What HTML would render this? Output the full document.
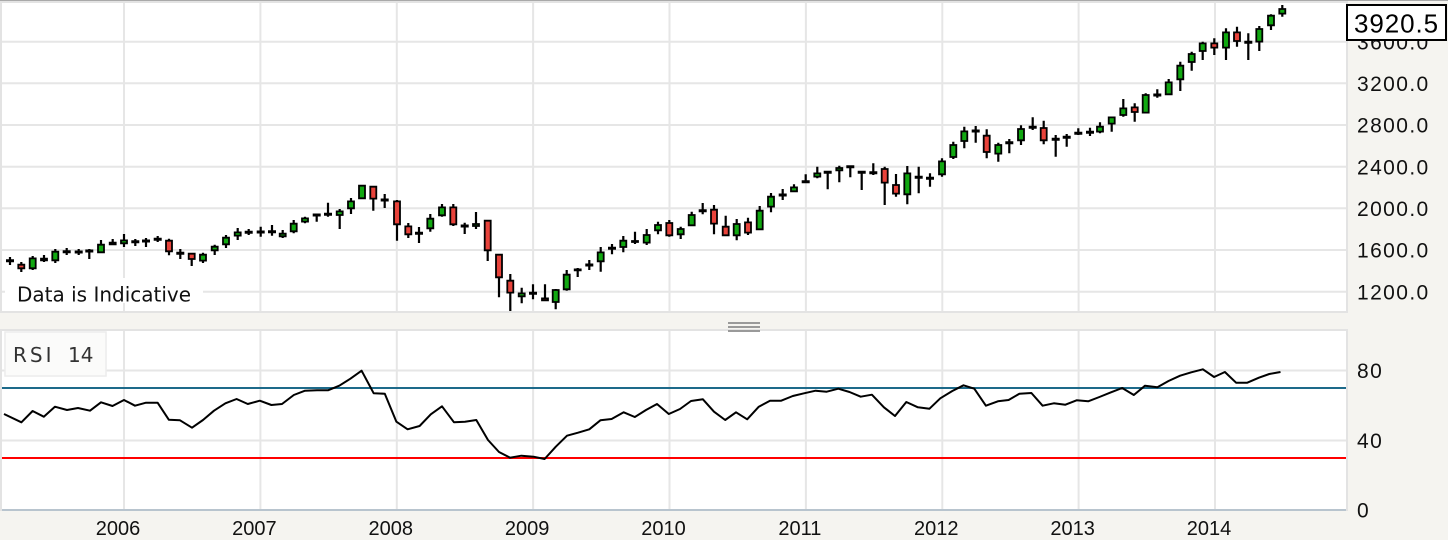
<!DOCTYPE html>
<html>
<head>
<meta charset="utf-8">
<style>
html,body{margin:0;padding:0;background:#f5f4f0;}
svg{display:block;}
.pl{font-family:"DejaVu Sans","Liberation Sans",sans-serif;font-size:20px;fill:#111;}
.ax{font-family:"Liberation Sans",sans-serif;font-size:21px;fill:#111;letter-spacing:1.4px;}
.yr{font-family:"Liberation Sans",sans-serif;font-size:20px;fill:#111;}
</style>
</head>
<body>
<svg width="1448" height="540" viewBox="0 0 1448 540" xmlns="http://www.w3.org/2000/svg">
<rect x="0" y="0" width="1448" height="540" fill="#f5f4f0"/>
<rect x="0" y="0" width="1448" height="1" fill="#a9a9a9"/>

<!-- Top panel -->
<rect x="1" y="2" width="1346" height="310" fill="#ffffff" stroke="#e3e3e3" stroke-width="2"/>
<g stroke="#e6e6e6" stroke-width="2" fill="none">
<path d="M2 41.7H1346M2 83.3H1346M2 125H1346M2 166.7H1346M2 208.3H1346M2 250H1346M2 291.7H1346"/>
<path d="M124 3V311M260.4 3V311M396.8 3V311M533.1 3V311M669.5 3V311M805.9 3V311M942.3 3V311M1078.6 3V311M1215 3V311"/>
</g>

<!-- Wicks -->
<path stroke="#000" stroke-width="2.2" fill="none" d="M10 257V265M21.3 262V272M32.7 256V270M44 255V262M55.3 249V263M66.7 248V255M78.7 249V255M89.3 249V259M101 240V253M112.7 239V245M124 234V247M135.3 239V246M146 238V247M157.7 236V242M169 238.7V255.3M180.3 249V259M191.7 253V266M203 252.7V263M214.7 244.7V255M226 235V248M237.7 228V240M248.7 229V235M260.7 226.7V236.7M272 225V235.7M282.7 230V238M293.7 220V233.3M305 216.7V223.3M316.7 214V221.7M328 202.7V216.7M339.7 209V229M351 198V214M362 185V199M373.3 186V210.7M384.7 194V208M397 200V240.7M408.3 223V238M419 227V243M430.3 214V231.7M442 204V216.7M453.3 204V226M464.7 222.7V234M476 212V229M487.7 220V261M499 254V297.3M510.3 274V311M521.7 287.7V303.3M533 284.3V299.3M545 284.3V301M555.7 289V309.3M566.7 270V290.7M577.7 268V277M589.3 260V270M600.7 247V271.7M612 244V254.3M623.3 236V252.3M635 231.7V244M646.7 229V245M658 221.7V234.3M669.3 220V236.7M680.7 226.7V239M691.7 211.7V226M702.7 203V214.3M714 205V234.3M725.7 215.7V236M736.7 219V240.3M748 217.7V235M759.7 206V230M771 193V212.3M782.7 189V200M794 184.3V192M805.7 174.3V182.3M817.3 166.7V178.3M827.7 171V189.3M839.3 165.7V182.3M850.3 165.7V177.3M861.7 171V190M873.3 163.3V175M884.7 166.7V205M896 174V196.7M907.3 166V204.3M918.7 166.7V193.3M930 173.3V186.7M942 158.3V176.7M953.3 141.7V159M964.3 126.7V148.3M975.7 126V142.7M986.7 129.3V158.3M998.3 142.7V161.7M1009.3 139V153.3M1021 125.3V145M1032.7 117.3V130M1043.7 120.7V144.3M1055.7 135V156.7M1066.7 134V146.7M1078.3 128.3V135M1090 127.7V136M1100 122.3V133.3M1111.7 116.7V131.7M1123.3 99V116.7M1134.7 103.3V121.7M1145.7 93.3V113.3M1157.3 89.3V97.7M1168.7 79V95M1180.3 61.7V91M1191.7 51.7V70.7M1202.7 41.7V60M1214.3 38.3V55M1226 28.3V60M1237 26.7V46.7M1248.3 33.3V60M1259.3 26V51M1271 14.3V30M1282.3 5V16.7"/>

<!-- Doji bars -->
<path fill="#000" d="M6 259.2h8v3h-8zM62.7 250.2h8v3h-8zM74.7 250.5h8v3h-8zM85.3 249.5h8v3h-8zM131.3 240.2h8v3h-8zM142 239.5h8v3h-8zM153.7 237.8h8v3h-8zM176.3 251.8h8v3h-8zM244.7 230.8h8v3h-8zM256.7 230.5h8v3h-8zM268 230.2h8v3h-8zM312.7 213.5h8v3h-8zM324 212.8h8v3h-8zM380.7 198.5h8v3h-8zM415 231.8h8v3h-8zM460.7 224.5h8v3h-8zM529 291.8h8v3h-8zM585.3 263.5h8v3h-8zM608 246.8h8v3h-8zM698.7 209.2h8v3h-8zM778.7 193.5h8v3h-8zM801.7 180.2h8v3h-8zM823.7 170.8h8v3h-8zM846.3 165.2h8v3h-8zM857.7 170.8h8v3h-8zM869.3 171.2h8v3h-8zM914.7 175.8h8v3h-8zM926 176.8h8v3h-8zM971.7 129.5h8v3h-8zM1005.3 141.2h8v3h-8zM1028.7 125.8h8v3h-8zM1051.7 137.8h8v3h-8zM1062.7 135.8h8v3h-8zM1074.3 131.8h8v3h-8zM1086 130.8h8v3h-8zM1153.3 93.5h8v3h-8zM1244.3 40.8h8v3h-8z"/>

<!-- Green bodies -->
<path fill="#11a811" stroke="#000" stroke-width="1.8" d="M29.7 258.4h6v9.9h-6zM52.3 251.7h6v8.6h-6zM98 244.7h6v7.6h-6zM109.7 242.7h6v1.6h-6zM121 240.4h6v2.9h-6zM200 254.7h6v5.9h-6zM211.7 246.7h6v3.6h-6zM223 237.7h6v6.6h-6zM234.7 232.4h6v3.2h-6zM279.7 233.7h6v2.6h-6zM290.7 223.7h6v7.6h-6zM302 218.4h6v3.2h-6zM336.7 211.4h6v3.6h-6zM348 201.4h6v6.9h-6zM359 185.7h6v12.6h-6zM427.3 218.7h6v9.6h-6zM439 207.4h6v7.9h-6zM473 224h6v2h-6zM518.7 293.4h6v2.9h-6zM552.7 290h6v12h-6zM563.7 274.7h6v14.6h-6zM574.7 269.4h6v1h-6zM597.7 252.4h6v8.9h-6zM620.3 240.7h6v6.3h-6zM632 241h6v1h-6zM643.7 235h6v7.6h-6zM655 225h6v5.3h-6zM677.7 229h6v5.3h-6zM688.7 215h6v10.3h-6zM733.7 224h6v11.3h-6zM756.7 210.7h6v18.6h-6zM768 196.7h6v9.9h-6zM791 187.4h6v3.9h-6zM814.3 173.4h6v3.2h-6zM836.3 168h6v2.3h-6zM904.3 173.4h6v20.9h-6zM939 161.4h6v12.9h-6zM950.3 145h6v12h-6zM961.3 131.4h6v9.6h-6zM995.3 145h6v8.6h-6zM1018 129h6v11.3h-6zM1097 126.7h6v4.9h-6zM1108.7 117.4h6v6.2h-6zM1120.3 108.4h6v6.6h-6zM1142.7 95h6v17.6h-6zM1165.7 82.4h6v11.9h-6zM1177.3 65.7h6v13.6h-6zM1188.7 54h6v8h-6zM1199.7 43.4h6v7.6h-6zM1223 32.4h6v15.2h-6zM1256.3 29h6v12.6h-6zM1268 15.7h6v9.6h-6zM1279.3 9h6v4.6h-6z"/>

<!-- Red bodies -->
<path fill="#e8433b" stroke="#000" stroke-width="1.8" d="M18.3 264.7h6v3.6h-6zM41 258.7h6v1.6h-6zM166 240.7h6v10.6h-6zM188.7 253.7h6v5.3h-6zM370.3 186.7h6v11.9h-6zM394 201.4h6v22.9h-6zM405.3 226.4h6v7.9h-6zM450.3 207.4h6v16.9h-6zM484.7 220.7h6v29.6h-6zM496 254.7h6v22.6h-6zM507.3 280.7h6v11.9h-6zM542 298.4h6v1.9h-6zM666.3 223h6v12.3h-6zM711 209.7h6v13.9h-6zM722.7 226.7h6v8.6h-6zM745 222.4h6v10.2h-6zM881.7 169h6v13.6h-6zM893 185h6v8.6h-6zM983.7 135.7h6v16.3h-6zM1040.7 128h6v12.3h-6zM1131.7 107.4h6v4.6h-6zM1211.3 43.4h6v4.2h-6zM1234 32.4h6v8.6h-6z"/>

<!-- Data is Indicative -->
<rect x="5" y="278" width="198" height="25" fill="#ffffff"/>
<text x="17" y="301.5" class="pl" fill="#000">Data is Indicative</text>

<!-- Price labels -->
<text class="ax" x="1357" y="49.3">3600.0</text>
<text class="ax" x="1357" y="91">3200.0</text>
<text class="ax" x="1357" y="132.7">2800.0</text>
<text class="ax" x="1357" y="174.4">2400.0</text>
<text class="ax" x="1357" y="216">2000.0</text>
<text class="ax" x="1357" y="257.7">1600.0</text>
<text class="ax" x="1357" y="299.4">1200.0</text>

<rect x="1347" y="5" width="99" height="35" fill="#ffffff" stroke="#000" stroke-width="2"/>
<text x="1354" y="32.3" font-family="Liberation Sans, sans-serif" font-size="26" letter-spacing="0.9" fill="#000">3920.5</text>

<!-- Divider handle -->
<rect x="728" y="322" width="32" height="2" fill="#9a9a9a"/>
<rect x="728" y="326" width="32" height="2" fill="#9a9a9a"/>

<!-- RSI panel -->
<rect x="1" y="330" width="1346" height="180" fill="#ffffff" stroke="#e3e3e3" stroke-width="2"/>
<rect x="728" y="330" width="32" height="2" fill="#9a9a9a"/>
<g stroke="#e6e6e6" stroke-width="2" fill="none">
<path d="M2 370.5H1346M2 440.5H1346"/>
<path d="M124 331V509M260.4 331V509M396.8 331V509M533.1 331V509M669.5 331V509M805.9 331V509M942.3 331V509M1078.6 331V509M1215 331V509"/>
</g>
<path d="M2 510H1346" stroke="#b8c4ce" stroke-width="2"/>
<path d="M2 388H1346" stroke="#1d6a8a" stroke-width="2"/>
<path d="M2 458H1346" stroke="#ff0000" stroke-width="2"/>

<polyline fill="none" stroke="#000" stroke-width="2" stroke-linejoin="round" points="4,414 21.4,422.3 32.6,411 43.8,416.7 54.9,406.7 67,410 78,408 90,410.7 101,402.3 112.5,406 124,400 135,405.7 146,402.7 157.6,402.7 168.8,419.7 180,420.3 192,427.7 203,420 214,410.7 225.4,403.3 236.6,399 247.8,404 259.8,400.7 271.4,405 282,404 293.8,395 305,390.7 317,390.3 328,390.3 339.3,385.7 350.4,378.7 361.6,370.7 373.7,393.3 384.8,393.7 396.4,421.7 407.6,429.3 419.6,426 430.8,414.3 442,406.3 454,422.3 465,421.7 476.3,420 488,440 499,452 510,457.7 521.4,455.7 533.5,456.7 544.6,459 555.8,446.7 567,435.7 578,432.7 589.3,429.3 600.4,420.3 611.6,419 623.7,412.3 634.8,417 646,410 657,404 668.8,414 680,409 691,401 702.9,399.3 714,411.7 725.2,420 736,412.3 747.2,419.3 758.8,406.7 770,400.7 781.2,400.7 792.8,396 804,393.3 815.6,390.7 826.7,391.7 838.3,388.7 849.5,392 860.7,396.7 871.9,394.7 883.9,407.3 895,416 906.3,402 917.9,407.3 929.5,408.7 940.3,398.3 952.3,391 963.5,385.3 974.3,388.7 985.9,405.7 997.9,401.3 1008.6,400 1019.4,393.7 1031.4,393 1042.6,405.7 1053.8,403.3 1065.4,404.7 1076.6,400.3 1088.2,401.3 1099.4,397 1111,392.3 1122.2,388 1133.8,395 1145,385.7 1157.4,387.3 1168.5,381 1180.1,375.7 1191.3,372.3 1202.9,369.3 1214.1,377 1224.9,372 1236.1,382.7 1247.3,382.7 1258.9,377.7 1269.3,374 1280.5,372"/>

<!-- RSI label box -->
<rect x="5" y="332" width="101" height="44" fill="#fbfbfa" stroke="#ececec" stroke-width="1.5"/>
<text x="13" y="362" font-family="DejaVu Sans, Liberation Sans, sans-serif" font-size="20" fill="#333" letter-spacing="3">RSI</text>
<text x="68" y="362" font-family="DejaVu Sans, Liberation Sans, sans-serif" font-size="20" fill="#333">14</text>

<!-- RSI axis labels -->
<text class="ax" x="1357" y="378">80</text>
<text class="ax" x="1357" y="448">40</text>
<text class="ax" x="1357" y="517.5">0</text>

<!-- Year labels -->
<g class="yr" text-anchor="middle">
<text x="118" y="535">2006</text>
<text x="254.4" y="535">2007</text>
<text x="390.8" y="535">2008</text>
<text x="527.1" y="535">2009</text>
<text x="663.5" y="535">2010</text>
<text x="799.9" y="535">2011</text>
<text x="936.3" y="535">2012</text>
<text x="1072.6" y="535">2013</text>
<text x="1209" y="535">2014</text>
</g>
</svg>
</body>
</html>
